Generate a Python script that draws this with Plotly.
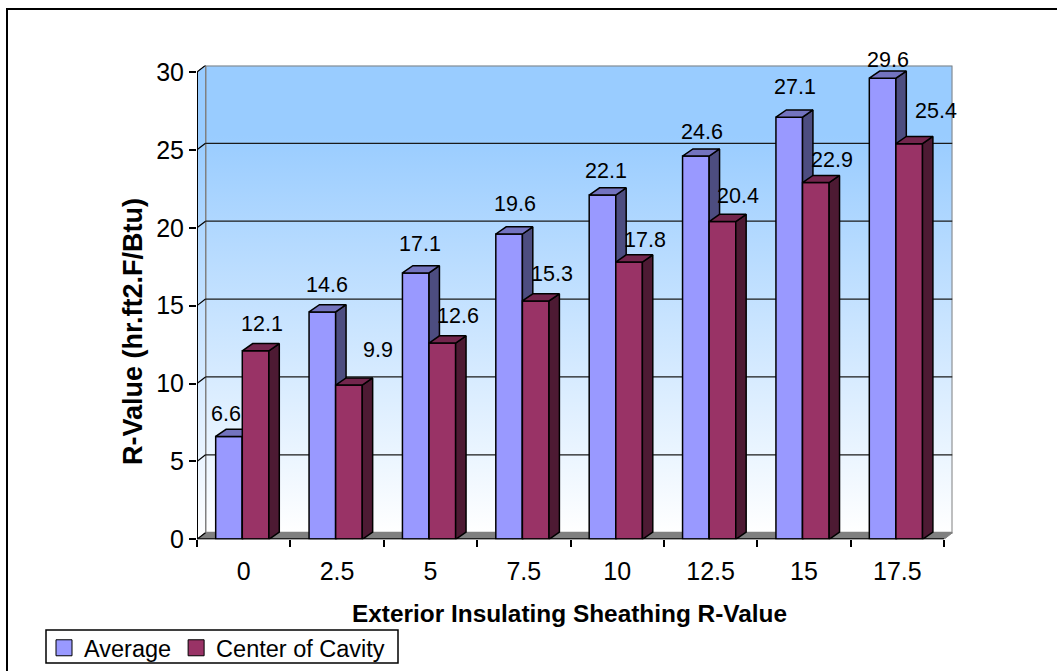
"""R-value bars drawn with a hand built 3D look, one overlaid subplot per depth layer."""
import plotly.graph_objects as go

CATEGORIES = ["0", "2.5", "5", "7.5", "10", "12.5", "15", "17.5"]
AVERAGE = [6.6, 14.6, 17.1, 19.6, 22.1, 24.6, 27.1, 29.6]
CENTER = [12.1, 9.9, 12.6, 15.3, 17.8, 20.4, 22.9, 25.4]
Y_TICKS = [0, 5, 10, 15, 20, 25, 30]

# label nudges in pixels from the top centre of each bar (labels were hand placed)
AVG_SHIFT = [(-3, 22), (5, 27), (4, 29), (6, 30), (4, 24), (6, 24), (6, 30), (5, 18)]
CEN_SHIFT = [(6, 27), (29, 35), (16, 27), (16, 27), (16, 22), (16, 26), (16, 23), (27, 33)]

W, H = 1057, 671
AX_L, AX_R, AX_T, AX_B = 197, 944, 72, 539.3
PX_X = (AX_R - AX_L) / 8
PX_Y = (AX_B - AX_T) / 30
BAR_W = 26.6 / PX_X
BAR_OFF = -28 / PX_X
WALL_PX_X, WALL_PX_Y = 8.5, 6.6
WALL_DX, WALL_DY = WALL_PX_X / PX_X, WALL_PX_Y / PX_Y
BAR_DX, BAR_DY = 10.4 / PX_X, 7.2 / PX_Y
X0, X1, Y1 = -0.5, 7.5, 30
BLUE_FADE = [[0, "#FFFFFF"], [0.85, "#99CCFF"], [1, "#99CCFF"]]


def poly(xs, ys, fill, line, xaxis="x", yaxis="y", width=1.5, gradient=None):
    kw = dict(fillgradient=gradient) if gradient else dict(fillcolor=fill)
    return go.Scatter(x=xs, y=ys, mode="lines", fill="toself", xaxis=xaxis, yaxis=yaxis,
                      line=dict(color=line, width=width), showlegend=False,
                      hoverinfo="skip", cliponaxis=False, **kw)


def line(xs, ys, color, width, xaxis="x", yaxis="y"):
    return go.Scatter(x=xs, y=ys, mode="lines", line=dict(color=color, width=width),
                      xaxis=xaxis, yaxis=yaxis, showlegend=False, hoverinfo="skip", cliponaxis=False)


def bar_layer(values, front, side, top, offset, xaxis, yaxis):
    """One series: front faces as real bars, side and top faces offset by the depth."""
    traces = [go.Bar(x=list(range(8)), y=values, width=BAR_W, offset=offset, showlegend=False,
                     marker=dict(color=front, line=dict(color="#000000", width=1.5)),
                     xaxis=xaxis, yaxis=yaxis, hoverinfo="skip")]
    for i, v in enumerate(values):
        xl, xr = i + offset, i + offset + BAR_W
        traces.append(poly([xr, xr + BAR_DX, xr + BAR_DX, xr, xr],
                           [0, BAR_DY, v + BAR_DY, v, 0], side, "#000000", xaxis, yaxis))
        traces.append(poly([xl, xl + BAR_DX, xr + BAR_DX, xr, xl],
                           [v, v + BAR_DY, v + BAR_DY, v, v], top, "#000000", xaxis, yaxis))
    return traces


def legend_key(name, color):
    return go.Scatter(x=[None], y=[None], mode="markers", name=name,
                      marker=dict(symbol="square", size=16, color=color,
                                  line=dict(color="#000000", width=1)))


fig = go.Figure()

# walls and floor sit on the base subplot
fig.add_trace(poly([X0 + WALL_DX, X1 + WALL_DX, X1 + WALL_DX, X0 + WALL_DX, X0 + WALL_DX],
                   [WALL_DY, WALL_DY, Y1 + WALL_DY, Y1 + WALL_DY, WALL_DY], None, "#808080", width=2,
                   gradient=dict(type="vertical", colorscale=BLUE_FADE)))
fig.add_trace(poly([X0, X0 + WALL_DX, X0 + WALL_DX, X0, X0],
                   [0, WALL_DY, Y1 + WALL_DY, Y1, 0], None, "#808080", width=1,
                   gradient=dict(type="vertical", colorscale=BLUE_FADE)))
fig.add_trace(poly([X0, X1, X1 + WALL_DX, X0 + WALL_DX, X0],
                   [0, 0, WALL_DY, WALL_DY, 0], "#808080", "#808080", width=1))
for t in Y_TICKS[1:-1]:
    fig.add_trace(line([X0 + WALL_DX, X1 + WALL_DX], [t + WALL_DY, t + WALL_DY], "#1a1a1a", 1.3))
for t in Y_TICKS:
    fig.add_trace(line([X0, X0 + WALL_DX], [t, t + WALL_DY], "#000000", 1.2))

for tr in bar_layer(AVERAGE, "#9999FF", "#4D4D80", "#7373BF", BAR_OFF, "x2", "y2"):
    fig.add_trace(tr)
for tr in bar_layer(CENTER, "#993366", "#4D1A33", "#73264D", BAR_OFF + BAR_W, "x3", "y3"):
    fig.add_trace(tr)

# front axis lines stop short of the wall, so they are traces and not axis lines
fig.add_trace(line([X0, X0, X1], [Y1, 0, 0], "#000000", 2, "x3", "y3"))
fig.add_trace(legend_key("Average", "#9999FF"))
fig.add_trace(legend_key("Center of Cavity", "#993366"))

annotations = []
for values, shifts, offset in ((AVERAGE, AVG_SHIFT, BAR_OFF), (CENTER, CEN_SHIFT, BAR_OFF + BAR_W)):
    for i, v in enumerate(values):
        annotations.append(dict(x=i + offset + BAR_W / 2, y=v, xref="x", yref="y", text=f"{v}",
                                showarrow=False, xshift=shifts[i][0], yshift=shifts[i][1],
                                font=dict(size=21.5, color="#000000")))
annotations.append(dict(x=569.5 / W, y=1 - 613 / H, xref="paper", yref="paper", showarrow=False,
                        xanchor="center", yanchor="middle",
                        text="<b>Exterior Insulating Sheathing R-Value</b>", font=dict(size=24.4)))
annotations.append(dict(x=133 / W, y=1 - 332 / H, xref="paper", yref="paper", showarrow=False,
                        xanchor="center", yanchor="middle", textangle=-90,
                        text="<b>R-Value (hr.ft2.F/Btu)</b>", font=dict(size=27)))

dom_x = [AX_L / W, (AX_R + WALL_PX_X) / W]
dom_y = [1 - AX_B / H, 1 - (AX_T - WALL_PX_Y) / H]
range_x = [X0, X1 + WALL_DX]
range_y = [0, Y1 + WALL_DY]
hidden = dict(domain=dom_x, range=range_x, visible=False)
hidden_y = dict(domain=dom_y, range=range_y, visible=False)

fig.update_layout(
    width=W, height=H,
    margin=dict(l=0, r=0, t=0, b=0, autoexpand=False),
    paper_bgcolor="#FFFFFF", plot_bgcolor="rgba(0,0,0,0)",
    font=dict(family="Liberation Sans, Arial, sans-serif", color="#000000", size=25),
    barmode="overlay",
    annotations=annotations,
    xaxis=dict(domain=dom_x, range=range_x, tickmode="array", tickvals=list(range(8)),
               ticktext=CATEGORIES, ticks="outside", ticklen=10, tickcolor="rgba(0,0,0,0)",
               showgrid=False, zeroline=False, showline=False,
               minor=dict(tickvals=[i - 0.5 for i in range(9)], ticks="outside", ticklen=7,
                          tickwidth=1.5, tickcolor="#000000", showgrid=False)),
    yaxis=dict(domain=dom_y, range=range_y, tickvals=Y_TICKS, ticks="outside", ticklen=7,
               tickwidth=1.5, tickcolor="#000000", showgrid=False, zeroline=False, showline=False),
    xaxis2=dict(overlaying="x", **hidden), yaxis2=dict(overlaying="y", **hidden_y),
    xaxis3=dict(overlaying="x", **hidden), yaxis3=dict(overlaying="y", **hidden_y),
    legend=dict(orientation="h", xref="paper", yref="paper", x=44 / W, y=1 - 626 / H,
                xanchor="left", yanchor="top", bgcolor="rgba(0,0,0,0)", borderwidth=0,
                font=dict(size=23.5)),
    shapes=[dict(type="rect", xref="paper", yref="paper", x0=7 / W, x1=1.02,
                 y0=-0.02, y1=1 - 9 / H, line=dict(color="#000000", width=2)),
            dict(type="rect", xref="paper", yref="paper", x0=46 / W, x1=398 / W,
                 y0=1 - 663 / H, y1=1 - 630 / H, line=dict(color="#000000", width=1.5))],
)

fig.write_html("out.html", config={"displayModeBar": False},
               post_script="document.body.style.margin='0';")
